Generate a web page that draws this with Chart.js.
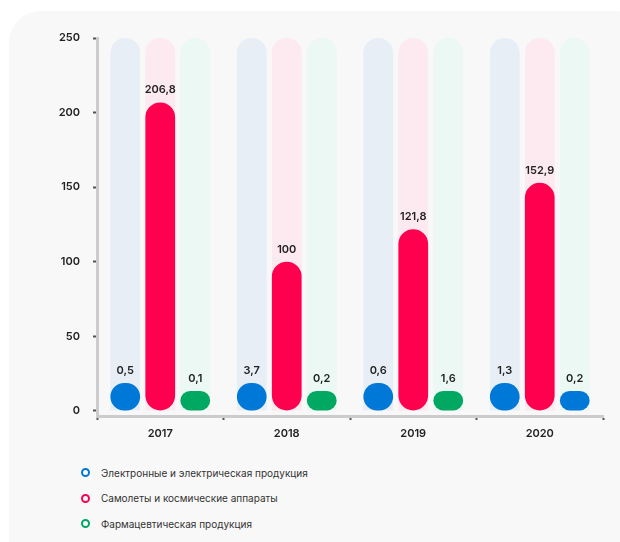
<!DOCTYPE html>
<html>
<head>
<meta charset="utf-8">
<script src="https://cdn.jsdelivr.net/npm/chart.js"></script>
<style>
    body { margin: 0; background: #ffffff; width: 620px; height: 542px; overflow: hidden; position: relative; font-family: Inter, "Noto Sans", sans-serif; }
    .card { position: absolute; left: 9px; top: 11px; width: 640px; height: 560px; background: #f8f8f8; border-radius: 32px; }
    #wrap { position: absolute; left: 0; top: 0; width: 620px; height: 450px; }
    #legend { position: absolute; left: 81px; top: 460px; }
    .item { display: flex; align-items: center; height: 25.5px; font-size: 10px; color: #333; }
    .dot { width: 5px; height: 5px; border-radius: 50%; border: 2.5px solid; background: #fff; margin-right: 11px; }
</style>
</head>
<body>
<div class="card"></div>
<div id="wrap"><canvas id="chart" width="620" height="450"></canvas></div>
<div id="legend"></div>
<script>
const years = ['2017', '2018', '2019', '2020'];
const yTicks = [0, 50, 100, 150, 200, 250];

const electronics = [0.5, 3.7, 0.6, 1.3];
const aircraft = [206.8, 100, 121.8, 152.9];
const pharma = [0.1, 0.2, 1.6, 0.2];
const fullBar = [250, 250, 250, 250];

const seriesNames = [
    'Электронные и электрическая продукция',
    'Самолеты и космические аппараты',
    'Фармацевтическая продукция'
];

const blue = '#0078d7';
const red = '#ff004f';
const green = '#00a862';

function dataBar(label, data, color, stack, minLen) {
    return {
        label: label,
        data: data,
        backgroundColor: color,
        stack: stack,
        order: 0,
        borderRadius: 15,
        borderSkipped: false,
        minBarLength: minLen,
        categoryPercentage: 0.83,
        barPercentage: 0.85
    };
}

function backBar(data, color, stack) {
    return {
        label: 'bg',
        isBg: true,
        data: data,
        backgroundColor: color,
        stack: stack,
        order: 1,
        borderRadius: { topLeft: 15, topRight: 15 },
        borderSkipped: 'start',
        categoryPercentage: 0.83,
        barPercentage: 0.85
    };
}

// last pharma bar is blue in the original picture
const pharmaColors = [green, green, green, blue];

const valueLabels = {
    id: 'valueLabels',
    afterDatasetsDraw(chart) {
        const ctx = chart.ctx;
        ctx.save();
        ctx.font = '600 11px Inter, "Noto Sans", sans-serif';
        ctx.fillStyle = '#222';
        ctx.textAlign = 'center';
        ctx.textBaseline = 'bottom';
        chart.data.datasets.forEach((ds, i) => {
            if (ds.isBg) return;
            chart.getDatasetMeta(i).data.forEach((bar, j) => {
                ctx.fillText(String(ds.data[j]).replace('.', ','), bar.x, bar.y - 7);
            });
        });
        ctx.restore();
    }
};

const options = {
    type: 'bar',
    data: {
        labels: years,
        datasets: [
            dataBar(seriesNames[0], electronics, blue, 'e', 28),
            dataBar(seriesNames[1], aircraft, red, 'a', 0),
            dataBar(seriesNames[2], pharma, pharmaColors, 'p', 20),
            backBar(fullBar, '#e7eef6', 'e'),
            backBar(fullBar, '#fde9f0', 'a'),
            backBar(fullBar, '#ebf8f3', 'p')
        ]
    },
    options: {
        responsive: false,
        animation: false,
        layout: { padding: { top: 38, right: 17, left: 0, bottom: 0 } },
        plugins: {
            legend: { display: false },
            tooltip: { enabled: false }
        },
        scales: {
            x: {
                border: { color: '#cccccc', width: 3 },
                grid: { drawOnChartArea: false, tickLength: 4, tickColor: '#555', tickWidth: 2 },
                ticks: { color: '#222', padding: 7, font: { family: 'Inter', size: 11, weight: '600' } },
                afterFit: (s) => { s.height = 34; }
            },
            y: {
                stacked: false,
                min: -3.4,
                max: 250,
                afterBuildTicks: (s) => { s.ticks = yTicks.map(v => ({ value: v })); },
                border: { color: '#cccccc', width: 3 },
                grid: { drawOnChartArea: false, tickLength: 4, tickColor: '#555', tickWidth: 2 },
                ticks: { color: '#222', padding: 13, font: { family: 'Inter', size: 11, weight: '600' } },
                afterFit: (s) => { s.width = 97; }
            }
        }
    },
    plugins: [valueLabels]
};

const theChart = new Chart(document.getElementById('chart'), options);

// legend
const legendColors = [blue, red, green];
const legend = document.getElementById('legend');
seriesNames.forEach((name, i) => {
    const row = document.createElement('div');
    row.className = 'item';
    const dot = document.createElement('span');
    dot.className = 'dot';
    dot.style.borderColor = legendColors[i];
    row.append(dot);
    row.append(name);
    legend.append(row);
});
</script>
</body>
</html>
